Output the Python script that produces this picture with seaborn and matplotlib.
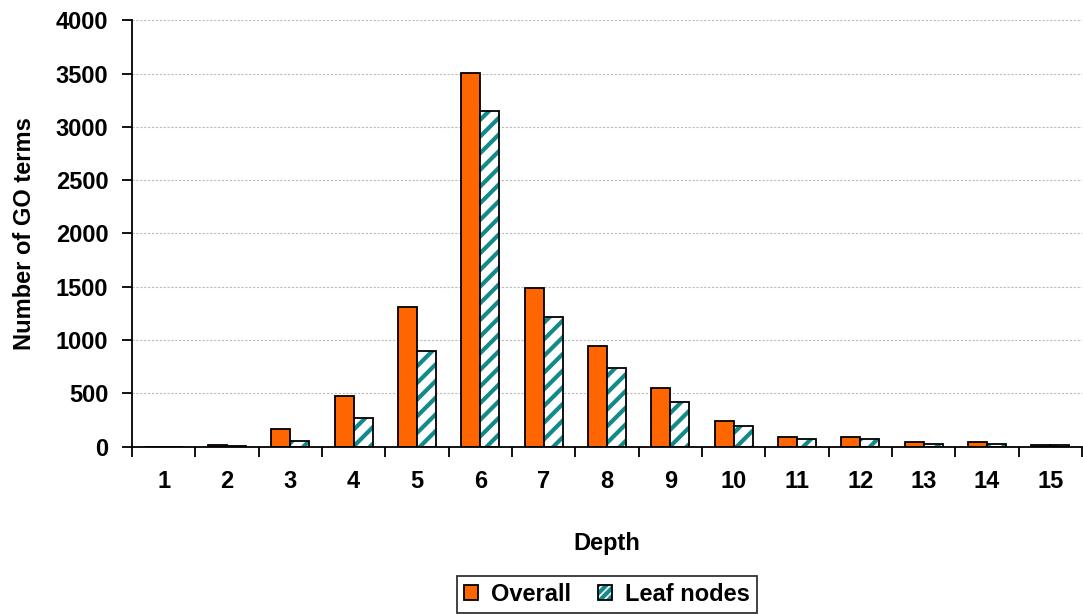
import numpy as np
import pandas as pd
import matplotlib
matplotlib.use("Agg")
import matplotlib.pyplot as plt
import seaborn as sns
from matplotlib.patches import Patch, Rectangle

# Number of GO terms found at each depth of the ontology
depths = [str(d) for d in range(1, 16)]
overall = [0, 15, 162, 479, 1308, 3509, 1487, 945, 551, 238, 88, 88, 40, 40, 15]
leaf_nodes = [0, 2, 56, 266, 901, 3149, 1214, 736, 416, 191, 72, 72, 25, 25, 15]
series_names = ["Overall", "Leaf nodes"]

ORANGE = "#FF6600"
TEAL = "#138A8A"
EDGE_LW = 1.3

df = pd.DataFrame({
    "Depth": depths * 2,
    "Count": overall + leaf_nodes,
    "Series": [series_names[0]] * len(depths) + [series_names[1]] * len(depths),
})

sns.set_theme(style="white")
plt.rcParams["font.family"] = ["Liberation Sans", "DejaVu Sans"]
plt.rcParams["font.weight"] = "bold"
plt.rcParams["text.color"] = "black"
plt.rcParams["axes.labelcolor"] = "black"
plt.rcParams["xtick.color"] = "black"
plt.rcParams["ytick.color"] = "black"
plt.rcParams["hatch.linewidth"] = 3.0

fig = plt.figure(figsize=(10.83, 6.14), dpi=100)
ax = fig.add_axes([0.1219, 0.2725, 0.8772, 0.6945])

sns.barplot(
    data=df, x="Depth", y="Count", hue="Series", order=depths,
    hue_order=series_names, palette=[ORANGE, "white"], width=0.6,
    edgecolor="black", linewidth=EDGE_LW, saturation=1.0, legend=False, ax=ax,
)

# Leaf-node bars: teal diagonal stripes, then a black outline on top
for bar in ax.containers[1]:
    bar.set_hatch("//")
    bar.set_edgecolor(TEAL)
    bar.set_linewidth(0)
    ax.add_patch(Rectangle(bar.get_xy(), bar.get_width(), bar.get_height(),
                           fill=False, edgecolor="black", linewidth=EDGE_LW,
                           zorder=bar.get_zorder() + 0.1))

ax.set_ylim(0, 4000)
ax.set_xlim(-0.5, len(depths) - 0.5)
ax.set_yticks(np.arange(0, 4001, 500))
ax.yaxis.grid(True, color="#BBBBBB", linestyle=(0, (2, 1.5)), linewidth=0.8)
ax.set_axisbelow(True)

# Tick marks sit on the category boundaries; labels stay centred
ax.set_xticks(np.arange(-0.5, len(depths), 1.0), minor=True)
ax.tick_params(axis="x", which="major", length=0, pad=17, labelsize=17, labelcolor="black")
ax.tick_params(axis="x", which="minor", length=7, width=EDGE_LW, color="black", bottom=True)
ax.tick_params(axis="y", which="major", length=7, width=EDGE_LW, color="black", left=True,
               pad=10, labelsize=17, labelcolor="black")
for lab in ax.get_xticklabels() + ax.get_yticklabels():
    lab.set_fontweight("bold")

for side in ["top", "right"]:
    ax.spines[side].set_visible(False)
for side in ["left", "bottom"]:
    ax.spines[side].set_color("black")
    ax.spines[side].set_linewidth(EDGE_LW)

ax.set_xlabel("Depth", fontsize=17, fontweight="bold", labelpad=28, color="black")
ax.set_ylabel("Number of GO terms", fontsize=17, fontweight="bold", labelpad=14, color="black")

handles = [
    Patch(facecolor=ORANGE, edgecolor="black", linewidth=EDGE_LW),
    (Patch(facecolor="white", edgecolor=TEAL, hatch="////", linewidth=0),
     Patch(facecolor="none", edgecolor="black", linewidth=EDGE_LW)),
]
leg = fig.legend(
    handles, series_names, loc="lower center", bbox_to_anchor=(0.5605, 0.0),
    ncol=2, frameon=True, fancybox=False, edgecolor="black",
    prop={"weight": "bold", "size": 17}, handlelength=0.6, handleheight=0.6,
    handletextpad=0.55, columnspacing=1.15, borderpad=0.3, borderaxespad=0.05,
)
leg.get_frame().set_linewidth(EDGE_LW)

fig.savefig("out.png", dpi=100)
